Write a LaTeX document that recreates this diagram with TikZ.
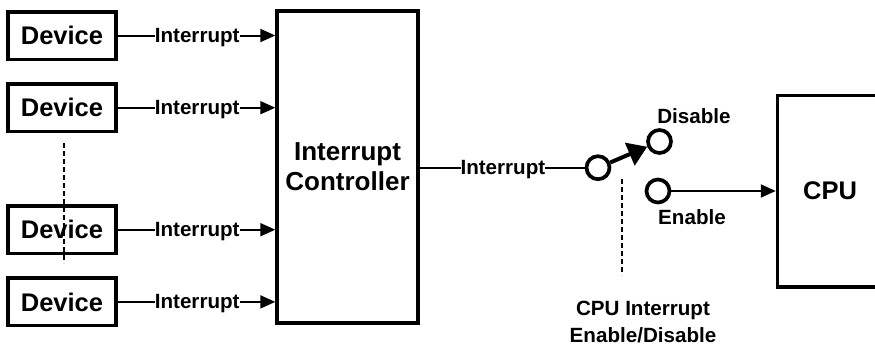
\documentclass[tikz,border=0pt]{standalone}
\usepackage{fontspec}
\setmainfont{Liberation Sans}
\usetikzlibrary{arrows.meta, positioning}
\tikzstyle{device} = [rectangle, minimum width=108pt, minimum height=47.5pt, inner sep=0pt, text centered, draw=black, line width=3.5pt, font=\fontsize{25.5pt}{30pt}\selectfont\bfseries]
\tikzstyle{block} = [device, align=center]
\tikzstyle{contact} = [circle, minimum size=23pt, inner sep=0pt, draw=black, fill=white, line width=3.7pt]
\tikzstyle{caption} = [inner sep=0pt, align=center, font=\fontsize{20.6pt}{27pt}\selectfont\bfseries]
\tikzstyle{signal} = [caption, fill=white, yshift=-2pt, xshift=0.7pt]
\tikzstyle{arrow} = [line width=2pt,-{Triangle[length=15pt,width=13pt]}]
\tikzstyle{wire} = [line width=2pt]
\tikzstyle{lever} = [line width=4pt,-{Triangle[length=19pt,width=24pt]}]
\tikzstyle{guide} = [line width=1.4pt, dash pattern=on 5pt off 3pt]

\begin{document}
\begin{tikzpicture}[x=1pt, y=-1pt, node distance=72.2pt]
\useasboundingbox (0,0) rectangle (875,346);

% Devices
\node (dev1) [device] at (62,35.5) {Device};
\node (dev2) [device, below of=dev1] {Device};
\node (dev3) [device, below of=dev2, yshift=-49.8pt] {Device};
\node (dev4) [device, below of=dev3] {Device};

% Controller and CPU
\node (ctrl) [block, minimum width=141pt, minimum height=312pt, font=\fontsize{26pt}{30pt}\selectfont\bfseries] at (347.5,167) {Interrupt\\Controller};
\node (cpu) [block, minimum width=105pt, minimum height=191.5pt] at (830,191) {CPU};

% Switch
\node (swin) [contact] at (598,167.7) {};
\node (swoff) [contact] at (659.5,141.5) {};
\node (swon) [contact] at (658,191) {};
\node (disable) [caption] at (694,116) {Disable};
\node (enable) [caption] at (692,217) {Enable};
\node (swcap) [caption] at (643,322.5) {CPU Interrupt\\Enable/Disable};
\coordinate (devtop) at (64,143);
\coordinate (devbot) at (64,263);
\coordinate (swtop) at (622,179);
\coordinate (swbot) at (622,275);

% Arrows
\draw [arrow] (dev1) -- node[signal] (int1) {Interrupt} (dev1 -| ctrl.west);
\draw [arrow] (dev2) -- node[signal] (int2) {Interrupt} (dev2 -| ctrl.west);
\draw [arrow] (dev3) -- node[signal] (int3) {Interrupt} (dev3 -| ctrl.west);
\draw [arrow] (dev4) -- node[signal] (int4) {Interrupt} (dev4 -| ctrl.west);
\draw [wire] (swin -| ctrl.east) -- node[signal] (int5) {Interrupt} (swin);
\draw [lever] (swin) -- (swoff);
\draw [arrow] (swon) -- (swon -| cpu.west);

\draw [guide] (devtop) -- (devbot);
\draw [guide] (swtop) -- (swbot);

\end{tikzpicture}
\end{document}
